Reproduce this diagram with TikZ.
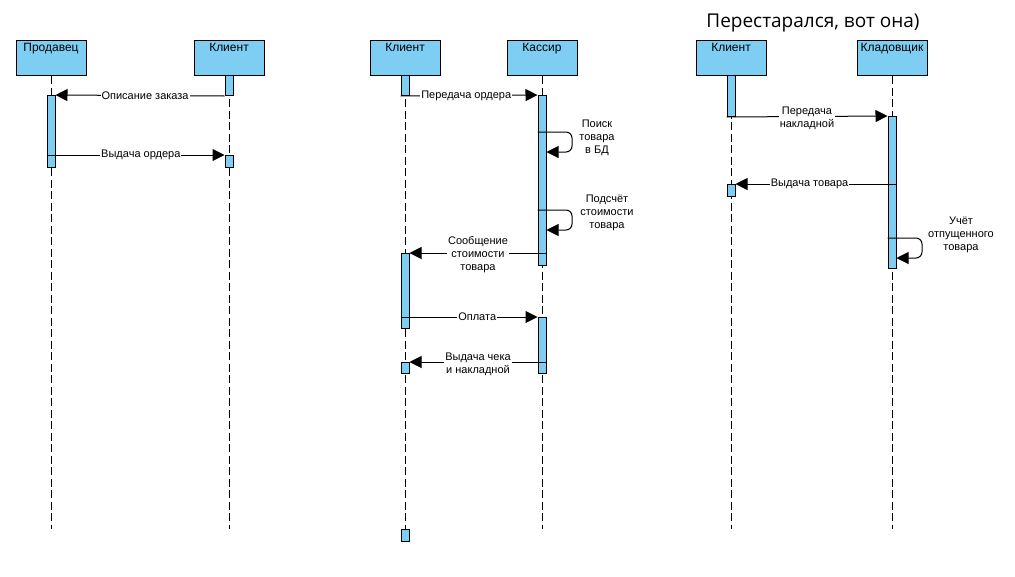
\documentclass[tikz,border=0pt]{standalone}
\usepackage{fontspec}
\setmainfont{Liberation Sans}
\newfontfamily\titlefont{Open Sans}
\usetikzlibrary{arrows.meta}
\definecolor{actblue}{RGB}{126,206,244}

\begin{document}
\begin{tikzpicture}[x=1pt, y=-1pt,
    head/.style={draw=black, fill=actblue, line width=1pt, minimum width=70pt, inner xsep=0pt, inner ysep=1.5pt,
        text height=9.5pt, text depth=22.5pt, anchor=north, font=\fontsize{12}{14}\selectfont},
    act/.style={draw=black, fill=actblue, line width=1pt, minimum width=8pt, inner sep=0pt, anchor=north},
    life/.style={line width=1pt, dash pattern=on 8pt off 3.5pt},
    msg/.style={line width=1pt, -{Triangle[length=12pt,width=12pt]}},
    lbl/.style={fill=white, inner sep=1pt, align=center, font=\fontsize{11}{13}\selectfont},
    multi/.style={lbl, yshift=-2pt}]
    \useasboundingbox (0,0) rectangle (1015,576);

    % title
    \node[anchor=base, font=\titlefont\fontsize{19}{23}\selectfont] (title) at (813,27) {Перестарался, вот она)};

    % heads
    \node[head] (p1) at (51,40) {Продавец};
    \node[head] (c1) at (229,40) {Клиент};
    \node[head] (c2) at (405,40) {Клиент};
    \node[head] (k2) at (542,40) {Кассир};
    \node[head] (c3) at (731,40) {Клиент};
    \node[head] (w3) at (892,40) {Кладовщик};

    % lifelines
    \foreach \n/\x in {p1/51, c1/229, c2/405, k2/542, c3/731, w3/892} {
        \coordinate (\n end) at (\x,529);
        \draw[life] (\n.south) -- (\n end);
    }

    % activations, first diagram
    \node[act, minimum height=20pt] (c1a) at (229,75) {};
    \node[act, minimum height=72pt] (p1a) at (51,95) {};
    \node[act, minimum height=12pt] (c1b) at (229,155) {};

    % activations, second diagram
    \node[act, minimum height=20pt] (c2a) at (405,75) {};
    \node[act, minimum height=170pt] (k2a) at (542,95) {};
    \node[act, minimum height=75pt] (c2b) at (405,253) {};
    \node[act, minimum height=56pt] (k2b) at (542,317) {};
    \node[act, minimum height=11pt] (c2c) at (405,362) {};
    \node[act, minimum height=12pt] (c2d) at (405,529) {};

    % activations, third diagram
    \node[act, minimum height=41pt] (c3a) at (731,75) {};
    \node[act, minimum height=152pt] (w3a) at (892,116) {};
    \node[act, minimum height=12pt] (c3b) at (731,184) {};

    % messages, first diagram
    \draw[msg] (c1a.south west) -- (p1a.north east) node[lbl, pos=0.47] (m1) {Описание заказа};
    \draw[msg] (p1a.west |- c1b.north) -- (c1b.north west) node[lbl, pos=0.53] (m2) {Выдача ордера};

    % messages, second diagram
    \draw[msg] (c2a.south west) -- (k2a.north west) node[lbl, pos=0.48] (m3) {Передача ордера};
    \draw[msg, rounded corners=6pt] (k2a.west |- 0,132) -- (572,132) -- (572,152) -- (k2a.east |- 0,152);
    \node[multi] (m4) at (597,136) {Поиск\\товара\\в БД};
    \draw[msg, rounded corners=6pt] (k2a.west |- 0,210) -- (572,210) -- (572,230) -- (k2a.east |- 0,230);
    \node[multi] (m5) at (607,211) {Подсчёт\\стоимости\\товара};
    \draw[msg] (k2a.east |- c2b.north) -- (c2b.north east) node[multi, midway] (m6) {Сообщение\\стоимости\\товара};
    \draw[msg] (c2b.west |- k2b.north) -- (k2b.north west) node[lbl, pos=0.56] (m7) {Оплата};
    \draw[msg] (k2b.east |- c2c.north) -- (c2c.north east) node[multi, midway] (m8) {Выдача чека\\и накладной};

    % messages, third diagram
    \draw[msg] (c3a.south west) -- (w3a.north west) node[multi, midway] (m9) {Передача\\накладной};
    \draw[msg] (w3a.east |- c3b.north) -- (c3b.north east) node[lbl, pos=0.54] (m10) {Выдача товара};
    \draw[msg, rounded corners=6pt] (w3a.west |- 0,238) -- (922,238) -- (922,258) -- (w3a.east |- 0,258);
    \node[multi] (m11) at (961,233) {Учёт\\отпущенного\\товара};
\end{tikzpicture}
\end{document}
